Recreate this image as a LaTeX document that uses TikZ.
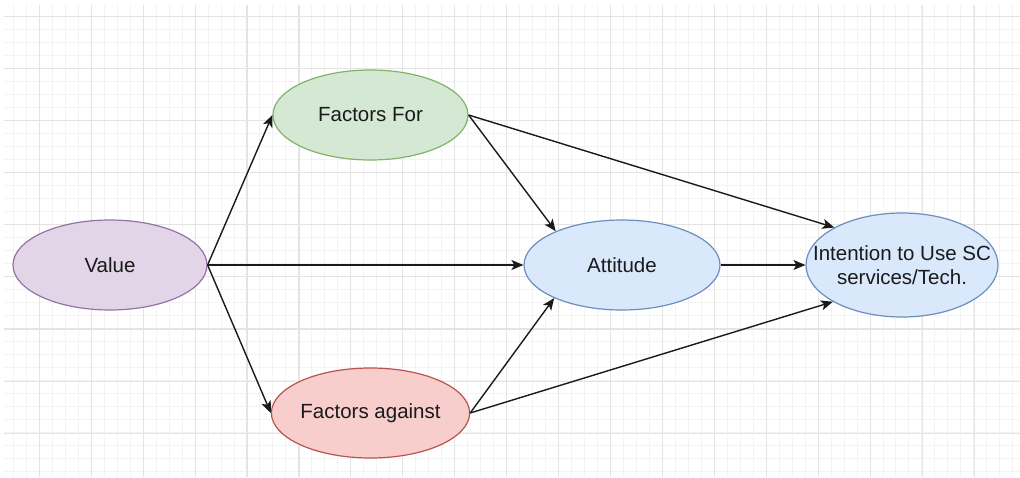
\documentclass[tikz,border=0pt]{standalone}
\usepackage{fontspec}
\setmainfont{Liberation Sans}
\usetikzlibrary{arrows.meta,shapes.geometric}
\definecolor{gridmajor}{HTML}{E4E4E4}
\definecolor{gridminor}{HTML}{F3F3F3}
\definecolor{purplefill}{HTML}{E1D5E7}
\definecolor{purpleline}{HTML}{9673A6}
\definecolor{greenfill}{HTML}{D5E8D4}
\definecolor{greenline}{HTML}{82B366}
\definecolor{redfill}{HTML}{F8CECC}
\definecolor{redline}{HTML}{B85450}
\definecolor{bluefill}{HTML}{DAE8FC}
\definecolor{blueline}{HTML}{6C8EBF}
\definecolor{txt}{HTML}{1A1A1A}
\tikzset{
  oval/.style={ellipse, inner sep=0pt, line width=1.2pt, text=txt,
    font=\fontsize{20.5pt}{24pt}\selectfont, align=center},
  conn/.style={line width=1.4pt, draw=txt, -{Stealth[length=12pt,width=10pt,inset=3pt]}},
}
\begin{document}
\begin{tikzpicture}[x=1pt,y=-1pt]
\useasboundingbox (0,0) rectangle (1020,478);
\fill[white] (0,0) rectangle (1020,478);
% minor grid
\foreach \i in {0,...,80} {
  \pgfmathsetmacro\xx{39.3+(\i-3)*12.98}
  \ifdim \xx pt>3pt \draw[gridminor,line width=1pt] (\xx,5) -- (\xx,477); \fi
}
\foreach \j in {0,...,40} {
  \pgfmathsetmacro\yy{16.7+(\j-0)*13.0}
  \ifdim \yy pt<477pt \draw[gridminor,line width=1pt] (4,\yy) -- (1020,\yy); \fi
}
% major grid
\foreach \i in {0,...,19} {
  \pgfmathsetmacro\xx{39.3+\i*51.93}
  \ifdim \xx pt<1020pt \draw[gridmajor,line width=1.1pt] (\xx,5) -- (\xx,477); \fi
}
\foreach \j in {0,...,9} {
  \pgfmathsetmacro\yy{16.7+\j*52.05}
  \ifdim \yy pt<477pt \draw[gridmajor,line width=1.1pt] (4,\yy) -- (1020,\yy); \fi
}
% nodes
\node[oval, fill=purplefill, draw=purpleline, minimum width=194pt, minimum height=90pt] (val) at (110,265) {Value};
\node[oval, fill=greenfill, draw=greenline, minimum width=195pt, minimum height=90pt] (ffor) at (370.5,115) {Factors For};
\node[oval, fill=redfill, draw=redline, minimum width=195pt, minimum height=90pt] (fag) at (370.5,413) {Factors against};
\node[oval, fill=bluefill, draw=blueline, minimum width=196pt, minimum height=90pt] (att) at (622,265) {Attitude};
\node[oval, fill=bluefill, draw=blueline, inner xsep=-25pt, inner ysep=0pt, minimum width=192pt, minimum height=104pt] (int) at (902,265) {Intention to Use SC\\services/Tech.};
% connectors
\draw[conn] (val.east) -- (ffor.west);
\draw[conn] (val.east) -- (fag.west);
\draw[conn] (val.east) -- (att.west);
\draw[conn] (ffor.east) -- (att.153);
\draw[conn] (ffor.east) -- (int.151);
\draw[conn] (fag.east) -- (att.206);
\draw[conn] (fag.east) -- (int.208);
\draw[conn] (att.east) -- (int.west);
\end{tikzpicture}
\end{document}
